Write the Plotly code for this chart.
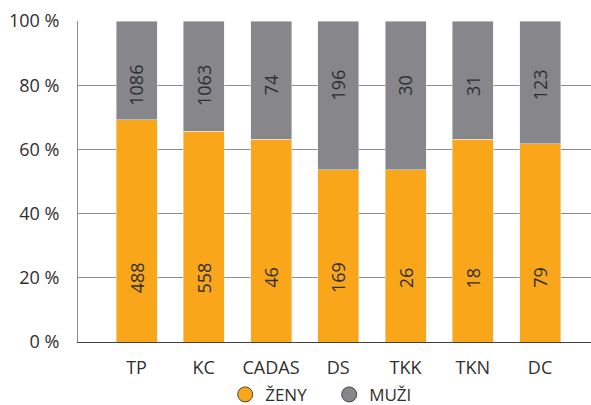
import plotly.graph_objects as go

# Categories and data
categories = ["TP", "KC", "CADAS", "DS", "TKK", "TKN", "DC"]
zeny_counts = [488, 558, 46, 169, 26, 18, 79]
muzi_counts = [1086, 1063, 74, 196, 30, 31, 123]
# Segment shares in percent (bar heights)
zeny_share = [69.3, 65.7, 63.2, 53.7, 53.7, 63.2, 61.7]
muzi_share = [30.7, 34.3, 36.8, 46.3, 46.3, 36.8, 38.3]
y_ticks = [0, 20, 40, 60, 80, 100]
y_tick_text = ["0 %", "20 %", "40 %", "60 %", "80 %", "100 %"]

ORANGE = "#FAA61B"
GRAY = "#87868A"
TEXT = "#2F2F2F"
FONT = "Open Sans"
SIZE = 18

fig = go.Figure()
fig.add_trace(go.Bar(x=categories, y=zeny_share, marker_color=ORANGE,
                     width=0.61, showlegend=False, hoverinfo="skip"))
fig.add_trace(go.Bar(x=categories, y=muzi_share, marker_color=GRAY,
                     width=0.61, showlegend=False, hoverinfo="skip"))

# Legend entries drawn as circles
fig.add_trace(go.Scatter(x=[None], y=[None], mode="markers", name="ŽENY",
                         marker=dict(symbol="circle", size=15, color=ORANGE,
                                     line=dict(color="#444444", width=1))))
fig.add_trace(go.Scatter(x=[None], y=[None], mode="markers", name="MUŽI",
                         marker=dict(symbol="circle", size=15, color=GRAY,
                                     line=dict(color="#444444", width=1))))

# Count labels inside the segments
for cat, zc, mc in zip(categories, zeny_counts, muzi_counts):
    fig.add_annotation(x=cat, y=20, text=str(zc), textangle=-90,
                       showarrow=False, font=dict(family=FONT, size=SIZE, color=TEXT))
    fig.add_annotation(x=cat, y=80, text=str(mc), textangle=-90,
                       showarrow=False, font=dict(family=FONT, size=SIZE, color=TEXT))

fig.update_layout(
    barmode="stack",
    width=591, height=405,
    margin=dict(l=78, r=0, t=21, b=63, autoexpand=False),
    paper_bgcolor="white", plot_bgcolor="white",
    font=dict(family=FONT, size=SIZE, color=TEXT),
    legend=dict(orientation="h", traceorder="normal",
                xref="container", yref="container",
                x=0.381, xanchor="left", y=0.025, yanchor="middle",
                entrywidth=59, entrywidthmode="pixels",
                font=dict(family=FONT, size=SIZE - 1, color=TEXT)),
    xaxis=dict(range=[-0.87, 6.758], showgrid=False, showline=True,
               linecolor="#404040", linewidth=1, ticks="",
               ticklabelstandoff=9, tickfont=dict(size=SIZE)),
    yaxis=dict(range=[0, 100], tickmode="array", tickvals=y_ticks, ticktext=y_tick_text,
               showgrid=True, gridcolor="#8C8C8C", gridwidth=1,
               showline=True, linecolor="#8C8C8C", linewidth=1,
               zeroline=False, ticks="", ticklabelstandoff=14,
               tickfont=dict(size=SIZE)),
)

fig.write_html("out.html")
